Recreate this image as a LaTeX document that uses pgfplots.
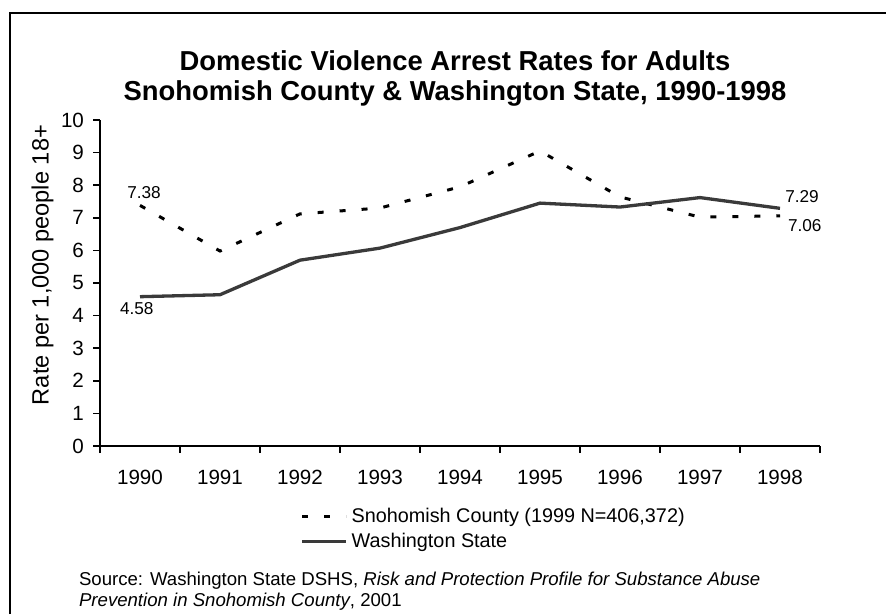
\documentclass[border=0pt]{standalone}
\usepackage{pgfplots}
\pgfplotsset{compat=1.18}
\usepackage{fontspec}
\setmainfont{Liberation Sans}
\definecolor{wagray}{HTML}{3A3A3A}
\begin{document}
\begin{tikzpicture}[x=1pt,y=1pt]
\useasboundingbox (0,0) rectangle (443,307);
% frame (left and top only)
\draw[line width=1.25pt] (5,0) -- (5,300.5) -- (443,300.5);
% title
\node[align=center, font=\fontsize{13.7}{15}\selectfont\bfseries] at (227.5,268)
  {Domestic Violence Arrest Rates for Adults\\Snohomish County \& Washington State, 1990-1998};
\begin{axis}[
  at={(50pt,84pt)}, anchor=south west,
  scale only axis, width=360pt, height=163pt,
  xmin=1989.5, xmax=1998.5, ymin=0, ymax=10,
  axis lines*=left,
  axis line style={line width=0.75pt, black},
  xtick={1990,...,1998},
  major x tick style={draw=none},
  minor xtick={1989.5,1990.5,...,1998.5},
  minor x tick style={line width=0.75pt, black},
  minor tick length=3.5pt,
  ytick={0,...,10},
  major y tick style={line width=0.75pt, black},
  major tick length=3.5pt,
  tick align=outside,
  /pgf/number format/assume math mode=true,
  /pgf/number format/1000 sep={},
  tick label style={font=\fontsize{10.3}{11}\selectfont, black},
  xticklabel style={yshift=-5pt},
  yticklabel style={xshift=-1pt},
  ylabel={Rate per 1,000 people 18+},
  ylabel style={font=\fontsize{11.8}{12}\selectfont, at={(axis description cs:-0.08,0.555)}, anchor=center, rotate=0},
  legend style={draw=none, fill=none, font=\fontsize{9.9}{11}\selectfont,
    at={(axis description cs:0.275,-0.17)}, anchor=north west,
    row sep=0pt, inner sep=1pt},
  legend cell align=left,
  legend image code/.code={\draw[#1] (0pt,0pt) -- (22pt,0pt);},
  clip=false,
]
\addplot[black, line width=1.5pt, dash pattern=on 3pt off 8pt] coordinates {
  (1990,7.38) (1991,5.98) (1992,7.12) (1993,7.30) (1994,7.95)
  (1995,9.05) (1996,7.64) (1997,7.02) (1998,7.06)};
\addlegendentry{Snohomish County (1999 N=406,372)}
\addplot[wagray, line width=1.65pt] coordinates {
  (1990,4.58) (1991,4.64) (1992,5.70) (1993,6.07) (1994,6.70)
  (1995,7.45) (1996,7.33) (1997,7.62) (1998,7.29)};
\addlegendentry{Washington State}
\node[font=\fontsize{8.6}{10}\selectfont, anchor=center] at (axis cs:1990.05,7.76) {7.38};
\node[font=\fontsize{8.6}{10}\selectfont, anchor=center] at (axis cs:1989.96,4.23) {4.58};
\node[font=\fontsize{8.6}{10}\selectfont, anchor=center] at (axis cs:1998.275,7.64) {7.29};
\node[font=\fontsize{8.6}{10}\selectfont, anchor=center] at (axis cs:1998.31,6.75) {7.06};
\end{axis}
\node[anchor=north west, align=left, font=\fontsize{9.3}{10.5}\selectfont] at (36,24.5)
  {Source: Washington State DSHS, \textit{Risk and Protection Profile for Substance Abuse}\\\textit{Prevention in Snohomish County}, 2001};
\end{tikzpicture}
\end{document}
